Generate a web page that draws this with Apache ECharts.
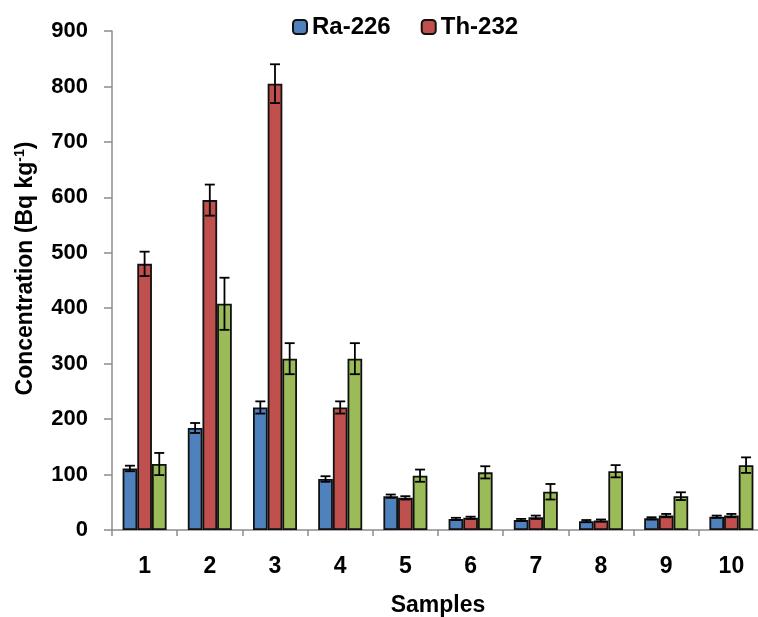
<!DOCTYPE html>
<html>
<head>
<meta charset="utf-8">
<script src="https://cdn.jsdelivr.net/npm/echarts@6/dist/echarts.min.js"></script>
<style>
html,body{margin:0;padding:0;background:#fff;}
#chart{width:758px;height:617px;}
</style>
</head>
<body>
<div id="chart"></div>
<script>
var categories = ['1','2','3','4','5','6','7','8','9','10'];
var ra226 = [111, 184, 221, 92, 61, 20, 18, 16, 21, 24];
var th232 = [480, 595, 805, 221, 58, 22, 23, 17, 26, 26];
var k40   = [119, 408, 309, 309, 98, 104, 69, 106, 61, 117];
var ra226Err = [5, 9, 11, 5, 3, 2, 2, 2, 2, 2];
var th232Err = [22, 28, 35, 11, 3, 2, 3, 2, 3, 3];
var k40Err   = [20, 47, 28, 28, 11, 11, 14, 11, 7, 14];
var yTicks = [0, 100, 200, 300, 400, 500, 600, 700, 800, 900];

var BAR_FRAC = 0.225;
var FONT = 'Liberation Sans, Arial, sans-serif';

function errSeries(name, vals, errs, k) {
  var data = vals.map(function (v, i) { return [i, v, errs[i]]; });
  return {
    type: 'custom',
    name: name + ' err',
    silent: true,
    z: 10,
    clip: false,
    encode: { x: 0, y: 1 },
    data: data,
    renderItem: function (params, api) {
      var idx = api.value(0), v = api.value(1), e = api.value(2);
      var band = api.size([1, 0])[0];
      var off = (k - 1) * BAR_FRAC * band;
      var hi = api.coord([idx, v + e]);
      var lo = api.coord([idx, v - e]);
      var x = hi[0] + off;
      var cap = 5;
      var st = { stroke: '#000', lineWidth: 1.8 };
      return {
        type: 'group',
        children: [
          { type: 'line', shape: { x1: x, y1: hi[1], x2: x, y2: lo[1] }, style: st },
          { type: 'line', shape: { x1: x - cap, y1: hi[1], x2: x + cap, y2: hi[1] }, style: st },
          { type: 'line', shape: { x1: x - cap, y1: lo[1], x2: x + cap, y2: lo[1] }, style: st }
        ]
      };
    }
  };
}

function barSeries(name, vals, color) {
  return {
    type: 'bar',
    name: name,
    data: vals,
    barWidth: (BAR_FRAC * 100) + '%',
    barGap: '0%',
    itemStyle: { color: color, borderColor: '#111', borderWidth: 1.8 }
  };
}

var chart = echarts.init(document.getElementById('chart'), null, { renderer: 'canvas' });
chart.setOption({
  animation: false,
  backgroundColor: '#ffffff',
  legend: {
    data: ['Ra-226', 'Th-232'],
    top: 10,
    left: 287,
    itemWidth: 14,
    itemHeight: 14,
    itemGap: 30,
    textStyle: { fontFamily: FONT, fontWeight: 'bold', fontSize: 24, color: '#000' }
  },
  grid: { left: 112, top: 31, width: 652, bottom: 87, containLabel: false, outerBoundsMode: 'none' },
  xAxis: {
    type: 'category',
    data: categories,
    name: 'Samples',
    nameLocation: 'middle',
    nameGap: 64,
    nameTextStyle: { fontFamily: FONT, fontWeight: 'bold', fontSize: 23, color: '#000' },
    axisLine: { lineStyle: { color: '#8c8c8c', width: 1.5 } },
    axisTick: { show: true, alignWithLabel: false, length: 6, lineStyle: { color: '#8c8c8c', width: 1.5 } },
    axisLabel: { margin: 25, fontFamily: FONT, fontWeight: 'bold', fontSize: 23, color: '#000' }
  },
  yAxis: {
    type: 'value',
    min: yTicks[0],
    max: yTicks[yTicks.length - 1],
    interval: yTicks[1] - yTicks[0],
    name: '{a|Concentration (Bq kg}{s|-1}{a|)}',
    nameLocation: 'middle',
    nameGap: 74,
    nameTextStyle: {
      padding: [0, 0, 0, 24],
      rich: {
        a: { fontFamily: FONT, fontWeight: 'bold', fontSize: 23, color: '#000' },
        s: { fontFamily: FONT, fontWeight: 'bold', fontSize: 14, color: '#000', verticalAlign: 'top', padding: [0, 0, 11, 0] }
      }
    },
    splitLine: { show: false },
    axisLine: { show: true, lineStyle: { color: '#8c8c8c', width: 1.5 } },
    axisTick: { show: true, length: 8, lineStyle: { color: '#8c8c8c', width: 1.5 } },
    axisLabel: { margin: 24, fontFamily: FONT, fontWeight: 'bold', fontSize: 22, color: '#000' }
  },
  series: [
    barSeries('Ra-226', ra226, '#4F81BD'),
    barSeries('Th-232', th232, '#C0504D'),
    barSeries('K-40', k40, '#9BBB59'),
    errSeries('Ra-226', ra226, ra226Err, 0),
    errSeries('Th-232', th232, th232Err, 1),
    errSeries('K-40', k40, k40Err, 2)
  ]
});
</script>
</body>
</html>
